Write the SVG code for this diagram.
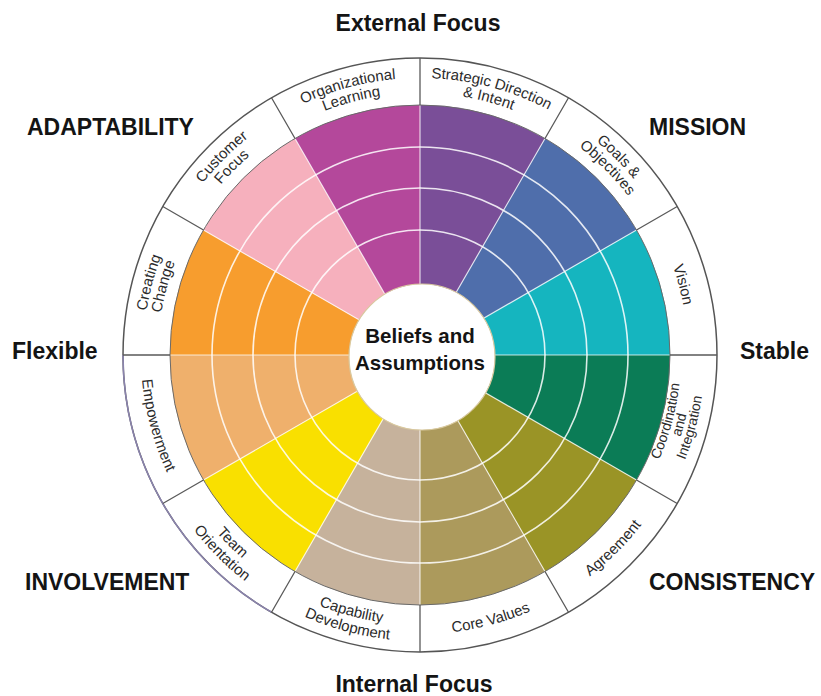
<svg xmlns="http://www.w3.org/2000/svg" xmlns:xlink="http://www.w3.org/1999/xlink" width="821" height="696" viewBox="0 0 821 696">
<style>
.lbl{font-family:"Liberation Sans",Arial,sans-serif;font-size:15px;fill:#2b2b2b}
.lbl3{font-family:"Liberation Sans",Arial,sans-serif;font-size:14px;fill:#2b2b2b}
.hd{font-family:"Liberation Sans",Arial,sans-serif;font-size:23px;font-weight:bold;fill:#141414}
.ctr{font-family:"Liberation Sans",Arial,sans-serif;font-size:20.5px;font-weight:bold;fill:#141414}
.ring{fill:none;stroke:#ffffff;stroke-width:1.6;stroke-opacity:0.85}
.spoke{fill:none;stroke:#ffffff;stroke-width:1.2;stroke-opacity:0.75}
.div{fill:none;stroke:#5a5a5a;stroke-width:1.3}
</style>
<defs>
<path id="u277" d="M224.13 159.13 A277 277 0 0 1 615.87 159.13"/>
<path id="u262" d="M234.74 169.74 A262 262 0 0 1 605.26 169.74"/>
<path id="u268" d="M230.5 165.5 A268 268 0 0 1 609.5 165.5"/>
<path id="l270" d="M229.08 545.92 A270 270 0 0 0 610.92 545.92"/>
<path id="l286" d="M217.77 557.23 A286 286 0 0 0 622.23 557.23"/>
<path id="l279" d="M222.72 552.28 A279 279 0 0 0 617.28 552.28"/>
<path id="l261" d="M235.45 539.55 A261 261 0 0 0 604.55 539.55"/>
<path id="l273" d="M226.96 548.04 A273 273 0 0 0 613.04 548.04"/>
<path id="l285" d="M218.47 556.53 A285 285 0 0 0 621.53 556.53"/>
</defs>
<rect width="821" height="696" fill="#ffffff"/>
<circle cx="420" cy="355" r="297" fill="#ffffff" stroke="#555" stroke-width="1.5"/>
<path d="M123 355 A297 297 0 0 0 271.5 612.21" fill="none" stroke="#8a83ad" stroke-width="1.5"/>

<g id="strategic-direction">
<path d="M420 355 L420 105 A250 250 0 0 1 545 138.5 Z" fill="#7a4e98"/>
<text class="lbl" transform="rotate(15 420 355)"><textPath xlink:href="#u277" href="#u277" startOffset="50%" text-anchor="middle">Strategic Direction</textPath></text>
<text class="lbl" transform="rotate(15 420 355)"><textPath xlink:href="#u262" href="#u262" startOffset="50%" text-anchor="middle">&amp; Intent</textPath></text>
</g>
<g id="goals-objectives">
<path d="M420 355 L545 138.5 A250 250 0 0 1 636.51 230 Z" fill="#4f6eab"/>
<text class="lbl" transform="rotate(45 420 355)"><textPath xlink:href="#u277" href="#u277" startOffset="50%" text-anchor="middle">Goals &amp;</textPath></text>
<text class="lbl" transform="rotate(45 420 355)"><textPath xlink:href="#u262" href="#u262" startOffset="50%" text-anchor="middle">Objectives</textPath></text>
</g>
<g id="vision">
<path d="M420 355 L636.51 230 A250 250 0 0 1 670 355 Z" fill="#15b5bf"/>
<text class="lbl" transform="rotate(75 420 355)"><textPath xlink:href="#u268" href="#u268" startOffset="50%" text-anchor="middle">Vision</textPath></text>
</g>
<g id="coordination-integration">
<path d="M420 355 L670 355 A250 250 0 0 1 636.51 480 Z" fill="#0b7c56"/>
<text class="lbl3" transform="rotate(-75 420 355)"><textPath xlink:href="#l261" href="#l261" startOffset="50%" text-anchor="middle">Coordination</textPath></text>
<text class="lbl3" transform="rotate(-75 420 355)"><textPath xlink:href="#l273" href="#l273" startOffset="50%" text-anchor="middle">and</textPath></text>
<text class="lbl3" transform="rotate(-75 420 355)"><textPath xlink:href="#l285" href="#l285" startOffset="50%" text-anchor="middle">Integration</textPath></text>
</g>
<g id="agreement">
<path d="M420 355 L636.51 480 A250 250 0 0 1 545 571.51 Z" fill="#9a9426"/>
<text class="lbl" transform="rotate(-45 420 355)"><textPath xlink:href="#l279" href="#l279" startOffset="50%" text-anchor="middle">Agreement</textPath></text>
</g>
<g id="core-values">
<path d="M420 355 L545 571.51 A250 250 0 0 1 420 605 Z" fill="#ac9a5c"/>
<text class="lbl" transform="rotate(-15 420 355)"><textPath xlink:href="#l279" href="#l279" startOffset="50%" text-anchor="middle">Core Values</textPath></text>
</g>
<g id="capability-development">
<path d="M420 355 L420 605 A250 250 0 0 1 295 571.51 Z" fill="#c6b29c"/>
<text class="lbl" transform="rotate(15 420 355)"><textPath xlink:href="#l270" href="#l270" startOffset="50%" text-anchor="middle">Capability</textPath></text>
<text class="lbl" transform="rotate(15 420 355)"><textPath xlink:href="#l286" href="#l286" startOffset="50%" text-anchor="middle">Development</textPath></text>
</g>
<g id="team-orientation">
<path d="M420 355 L295 571.51 A250 250 0 0 1 203.49 480 Z" fill="#f9e000"/>
<text class="lbl" transform="rotate(45 420 355)"><textPath xlink:href="#l270" href="#l270" startOffset="50%" text-anchor="middle">Team</textPath></text>
<text class="lbl" transform="rotate(45 420 355)"><textPath xlink:href="#l286" href="#l286" startOffset="50%" text-anchor="middle">Orientation</textPath></text>
</g>
<g id="empowerment">
<path d="M420 355 L203.49 480 A250 250 0 0 1 170 355 Z" fill="#efb06c"/>
<text class="lbl" transform="rotate(75 420 355)"><textPath xlink:href="#l279" href="#l279" startOffset="50%" text-anchor="middle">Empowerment</textPath></text>
</g>
<g id="creating-change">
<path d="M420 355 L170 355 A250 250 0 0 1 203.49 230 Z" fill="#f79d2e"/>
<text class="lbl" transform="rotate(-75 420 355)"><textPath xlink:href="#u277" href="#u277" startOffset="50%" text-anchor="middle">Creating</textPath></text>
<text class="lbl" transform="rotate(-75 420 355)"><textPath xlink:href="#u262" href="#u262" startOffset="50%" text-anchor="middle">Change</textPath></text>
</g>
<g id="customer-focus">
<path d="M420 355 L203.49 230 A250 250 0 0 1 295 138.5 Z" fill="#f6b0bd"/>
<text class="lbl" transform="rotate(-45 420 355)"><textPath xlink:href="#u277" href="#u277" startOffset="50%" text-anchor="middle">Customer</textPath></text>
<text class="lbl" transform="rotate(-45 420 355)"><textPath xlink:href="#u262" href="#u262" startOffset="50%" text-anchor="middle">Focus</textPath></text>
</g>
<g id="organizational-learning">
<path d="M420 355 L295 138.5 A250 250 0 0 1 420 105 Z" fill="#b4489b"/>
<text class="lbl" transform="rotate(-15 420 355)"><textPath xlink:href="#u277" href="#u277" startOffset="50%" text-anchor="middle">Organizational</textPath></text>
<text class="lbl" transform="rotate(-15 420 355)"><textPath xlink:href="#u262" href="#u262" startOffset="50%" text-anchor="middle">Learning</textPath></text>
</g>

<g id="grid">
<circle class="ring" cx="420" cy="355" r="208"/>
<circle class="ring" cx="420" cy="355" r="167"/>
<circle class="ring" cx="420" cy="355" r="125"/>
<path class="spoke" d="M420 105 L420 605 M545 138.5 L295 571.51 M636.51 230 L203.49 480 M670 355 L170 355 M636.51 480 L203.49 230 M545 571.51 L295 138.5"/>
<circle cx="420" cy="355" r="250" fill="none" stroke="#6a6a6a" stroke-width="1"/>
</g>
<g id="connectors">
<path class="div" d="M420 105 L420 58 M545 138.5 L568.5 97.79 M636.51 230 L677.21 206.5 M670 355 L717 355 M636.51 480 L677.21 503.5 M545 571.51 L568.5 612.21 M420 605 L420 652 M295 571.51 L271.5 612.21 M203.49 480 L162.79 503.5 M170 355 L123 355 M203.49 230 L162.79 206.5 M295 138.5 L271.5 97.79"/>
</g>

<g id="beliefs-assumptions">
<circle cx="422" cy="357" r="73" fill="#ffffff" stroke="#d9c99f" stroke-width="1.2"/>
<text class="ctr" x="420" y="343" text-anchor="middle">Beliefs and</text>
<text class="ctr" x="420" y="370" text-anchor="middle">Assumptions</text>
</g>

<g id="headings">
<text class="hd" x="418" y="31" text-anchor="middle">External Focus</text>
<text class="hd" x="414" y="692" text-anchor="middle">Internal Focus</text>
<text class="hd" x="27" y="135">ADAPTABILITY</text>
<text class="hd" x="649" y="135">MISSION</text>
<text class="hd" x="12" y="359">Flexible</text>
<text class="hd" x="740" y="359">Stable</text>
<text class="hd" x="25" y="590">INVOLVEMENT</text>
<text class="hd" x="649" y="590">CONSISTENCY</text>
</g>
</svg>
